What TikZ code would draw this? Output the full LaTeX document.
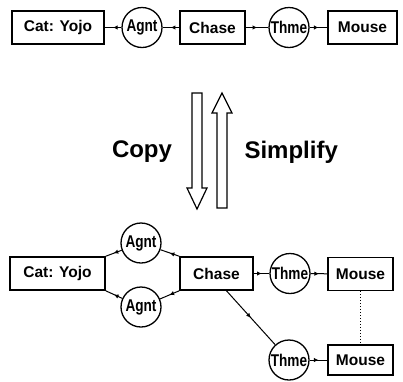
\documentclass[tikz,border=0pt]{standalone}
\usepackage{fontspec}
\setmainfont{Liberation Sans}
\usepackage{graphicx}
\usetikzlibrary{arrows.meta,decorations.markings}

% relation label: condensed bold text
\newcommand{\relname}[1]{\scalebox{0.8}[1]{#1}}

\tikzset{
  concept/.style={draw, line width=1.6pt, minimum height=33pt, inner sep=0pt,
    font=\fontsize{15.5}{16}\selectfont\bfseries},
  relation/.style={circle, draw, line width=1.3pt, minimum size=40pt, inner sep=0pt,
    font=\fontsize{17}{17}\selectfont\bfseries},
  link/.style={line width=1pt, postaction={decorate},
    decoration={markings, mark=at position 0.5 with {\arrow{Latex[length=4.5pt,width=4.5pt]}}}},
  hollowarrow/.style={draw, line width=1.2pt, line join=miter},
  opname/.style={font=\fontsize{24}{24}\selectfont\bfseries}
}

\begin{document}
\begin{tikzpicture}[x=1pt, y=-1pt]
\useasboundingbox (0,0) rectangle (403,381);

% ---- original graph ----
\node[concept, minimum width=92pt] (cat) at (58,27.5) {Cat: Yojo};
\node[relation] (agnt) at (142,27.5) {\relname{Agnt}};
\node[concept, minimum width=65pt] (chase) at (212.5,27.5) {Chase};
\node[relation] (thme) at (289,27.5) {\relname{Thme}};
\node[concept, minimum width=69pt] (mouse) at (362.5,27.5) {Mouse};

\draw[link] (agnt) -- (cat);
\draw[link] (chase) -- (agnt);
\draw[link] (chase) -- (thme);
\draw[link] (thme) -- (mouse);

% ---- copy / simplify operations ----
\draw[hollowarrow] (192,93) -- (202,93) -- (202,188) -- (207,188) -- (197,209)
  -- (187,188) -- (192,188) -- cycle;
\draw[hollowarrow] (217,208) -- (227,208) -- (227,113) -- (232,113) -- (222,93)
  -- (212,113) -- (217,113) -- cycle;
\node[opname] (copy) at (142,152) {Copy};
\node[opname, anchor=west] (simplify) at (241,152) {Simplify};

% ---- copied graph ----
\node[concept, minimum width=95pt] (catB) at (57.5,273.5) {Cat: Yojo};
\node[relation] (agntA) at (141,243) {\relname{Agnt}};
\node[relation] (agntB) at (141,307) {\relname{Agnt}};
\node[concept, minimum width=73pt] (chaseB) at (216.5,273.5) {Chase};
\node[relation] (thmeA) at (290,273.5) {\relname{Thme}};
\node[concept, minimum width=65pt] (mouseA) at (360.5,274) {Mouse};
\node[relation] (thmeB) at (289,360) {\relname{Thme}};
\node[concept, minimum width=65pt, minimum height=30pt] (mouseB) at (360.5,360) {Mouse};

\draw[link] (agntA) -- (catB.north east);
\draw[link] (chaseB.north west) -- (agntA);
\draw[link] (agntB) -- (catB.south east);
\draw[link] (chaseB.south west) -- (agntB);
\draw[link] (chaseB) -- (thmeA);
\draw[link] (thmeA) -- (mouseA);
\draw[link] (chaseB.-60) -- (thmeB);
\draw[link] (thmeB) -- (mouseB);
\draw[line width=1pt, dotted] (mouseA.south) -- (mouseB.north);
\end{tikzpicture}
\end{document}
